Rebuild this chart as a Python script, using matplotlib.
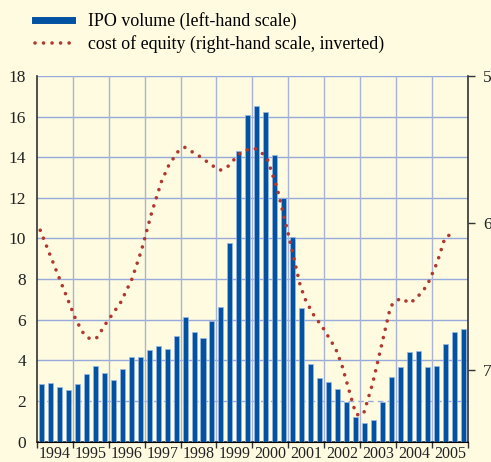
import numpy as np
import matplotlib.pyplot as plt
from matplotlib.lines import Line2D

# IPO volume, quarterly 1994Q1 - 2005Q4 (left-hand scale)
ipo = [2.84, 2.88, 2.69, 2.56,
       2.84, 3.31, 3.72, 3.39,
       3.05, 3.58, 4.14, 4.14,
       4.50, 4.72, 4.55, 5.20,
       6.15, 5.40, 5.12, 5.91,
       6.63, 9.80, 14.29, 16.08,
       16.54, 16.25, 14.09, 11.99,
       10.08, 6.58, 3.81, 3.12,
       2.93, 2.59, 1.93, 1.21,
       0.91, 1.08, 1.93, 3.18,
       3.69, 4.41, 4.48, 3.69,
       3.74, 4.81, 5.40, 5.55]
years = list(range(1994, 2006))

# cost of equity (right-hand scale, inverted)
coe_t = [1994.09, 1995.08, 1995.31, 1995.50, 1995.67, 1995.92, 1996.33, 1996.64,
         1996.91, 1997.19, 1997.47, 1997.66, 1997.91, 1998.11, 1998.52, 1998.91,
         1999.10, 1999.30, 1999.63, 1999.83, 2000.05, 2000.24, 2000.41, 2000.69,
         2000.99, 2001.32, 2001.46, 2001.68, 2001.96, 2002.32, 2002.49, 2002.88,
         2002.99, 2003.10, 2003.35, 2003.63, 2003.85, 2004.01, 2004.18, 2004.37,
         2004.57, 2004.87, 2005.15, 2005.37, 2005.54]
coe = [6.051, 6.659, 6.761, 6.795, 6.782, 6.686, 6.543, 6.386,
       6.188, 5.935, 5.717, 5.614, 5.519, 5.485, 5.546, 5.614,
       5.642, 5.621, 5.532, 5.505, 5.491, 5.519, 5.560, 5.765,
       6.065, 6.413, 6.515, 6.618, 6.713, 6.857, 6.966, 7.300,
       7.314, 7.300, 7.096, 6.802, 6.570, 6.529, 6.515, 6.549,
       6.515, 6.427, 6.270, 6.099, 6.078]

bg = '#fefbe0'
blue = '#0152a3'
red = '#b0382f'
grid = '#97aadb'
dark = '#333333'
dots = (0, (0.01, 2.35))

plt.rcParams['font.family'] = ['Liberation Serif', 'DejaVu Serif']

fig = plt.figure(figsize=(4.91, 4.62), dpi=100, facecolor=bg)
ax = fig.add_axes([37 / 491, 1 - 441.5 / 462, 430.7 / 491, 365.5 / 462])
ax.set_facecolor(bg)

x = np.arange(len(ipo)) / 4 + 1994 + 0.125
ax.bar(x, ipo, width=0.14, color=blue, edgecolor='#9ab8e6', linewidth=0.5, zorder=3)

for v in range(2, 19, 2):
    ax.axhline(v, color=grid, lw=1.0, ls=(0, (4, 3)) if v == 2 else '-', zorder=1)
for yr in years[1:]:
    ax.axvline(yr, color='#a9b4d4', lw=1.0, zorder=1)

ax.set_xlim(1994.05, 2006)
ax.set_ylim(0, 18)
ax.set_yticks(range(0, 19, 2))
ax.tick_params(axis='y', length=0, pad=8, labelsize=12.5, colors='#222222')
ax.set_xticks(years + [2006])
ax.set_xticks(np.array(years) + 0.5, minor=True)
ax.set_xticklabels(years, minor=True)
ax.tick_params(axis='x', which='major', length=4, width=1, color=dark, labelbottom=False)
ax.tick_params(axis='x', which='minor', length=0, pad=3, labelsize=11.5, colors='#222222')
ax.spines['top'].set_visible(False)
ax.spines['right'].set_visible(False)
for s in ['left', 'bottom']:
    ax.spines[s].set_color(dark)
    ax.spines[s].set_linewidth(1.2)

ax2 = ax.twinx()
ax2.plot(coe_t, coe, color=red, lw=2.6, ls=dots, dash_capstyle='round', zorder=4)
ax2.set_ylim(7.49, 5)
ax2.set_yticks([5, 6, 7])
ax2.tick_params(axis='y', length=5, width=1, color=dark, pad=6, labelsize=12.5, colors='#222222')
ax2.spines['top'].set_visible(False)
ax2.spines['left'].set_visible(False)
ax2.spines['right'].set_color(dark)
ax2.spines['right'].set_linewidth(1.2)

handles = [Line2D([], [], color=blue, lw=5),
           Line2D([], [], color=red, lw=2.6, ls=dots, dash_capstyle='round')]
fig.legend(handles, ['IPO volume (left-hand scale)',
                     'cost of equity (right-hand scale, inverted)'],
           loc='upper left', bbox_to_anchor=(35 / 491, 1 - 12 / 462), frameon=False,
           fontsize=12.9, handlelength=2.05, handletextpad=0.9, borderpad=0,
           borderaxespad=0, labelspacing=0.3)

fig.savefig('out.png', dpi=100, facecolor=bg)
